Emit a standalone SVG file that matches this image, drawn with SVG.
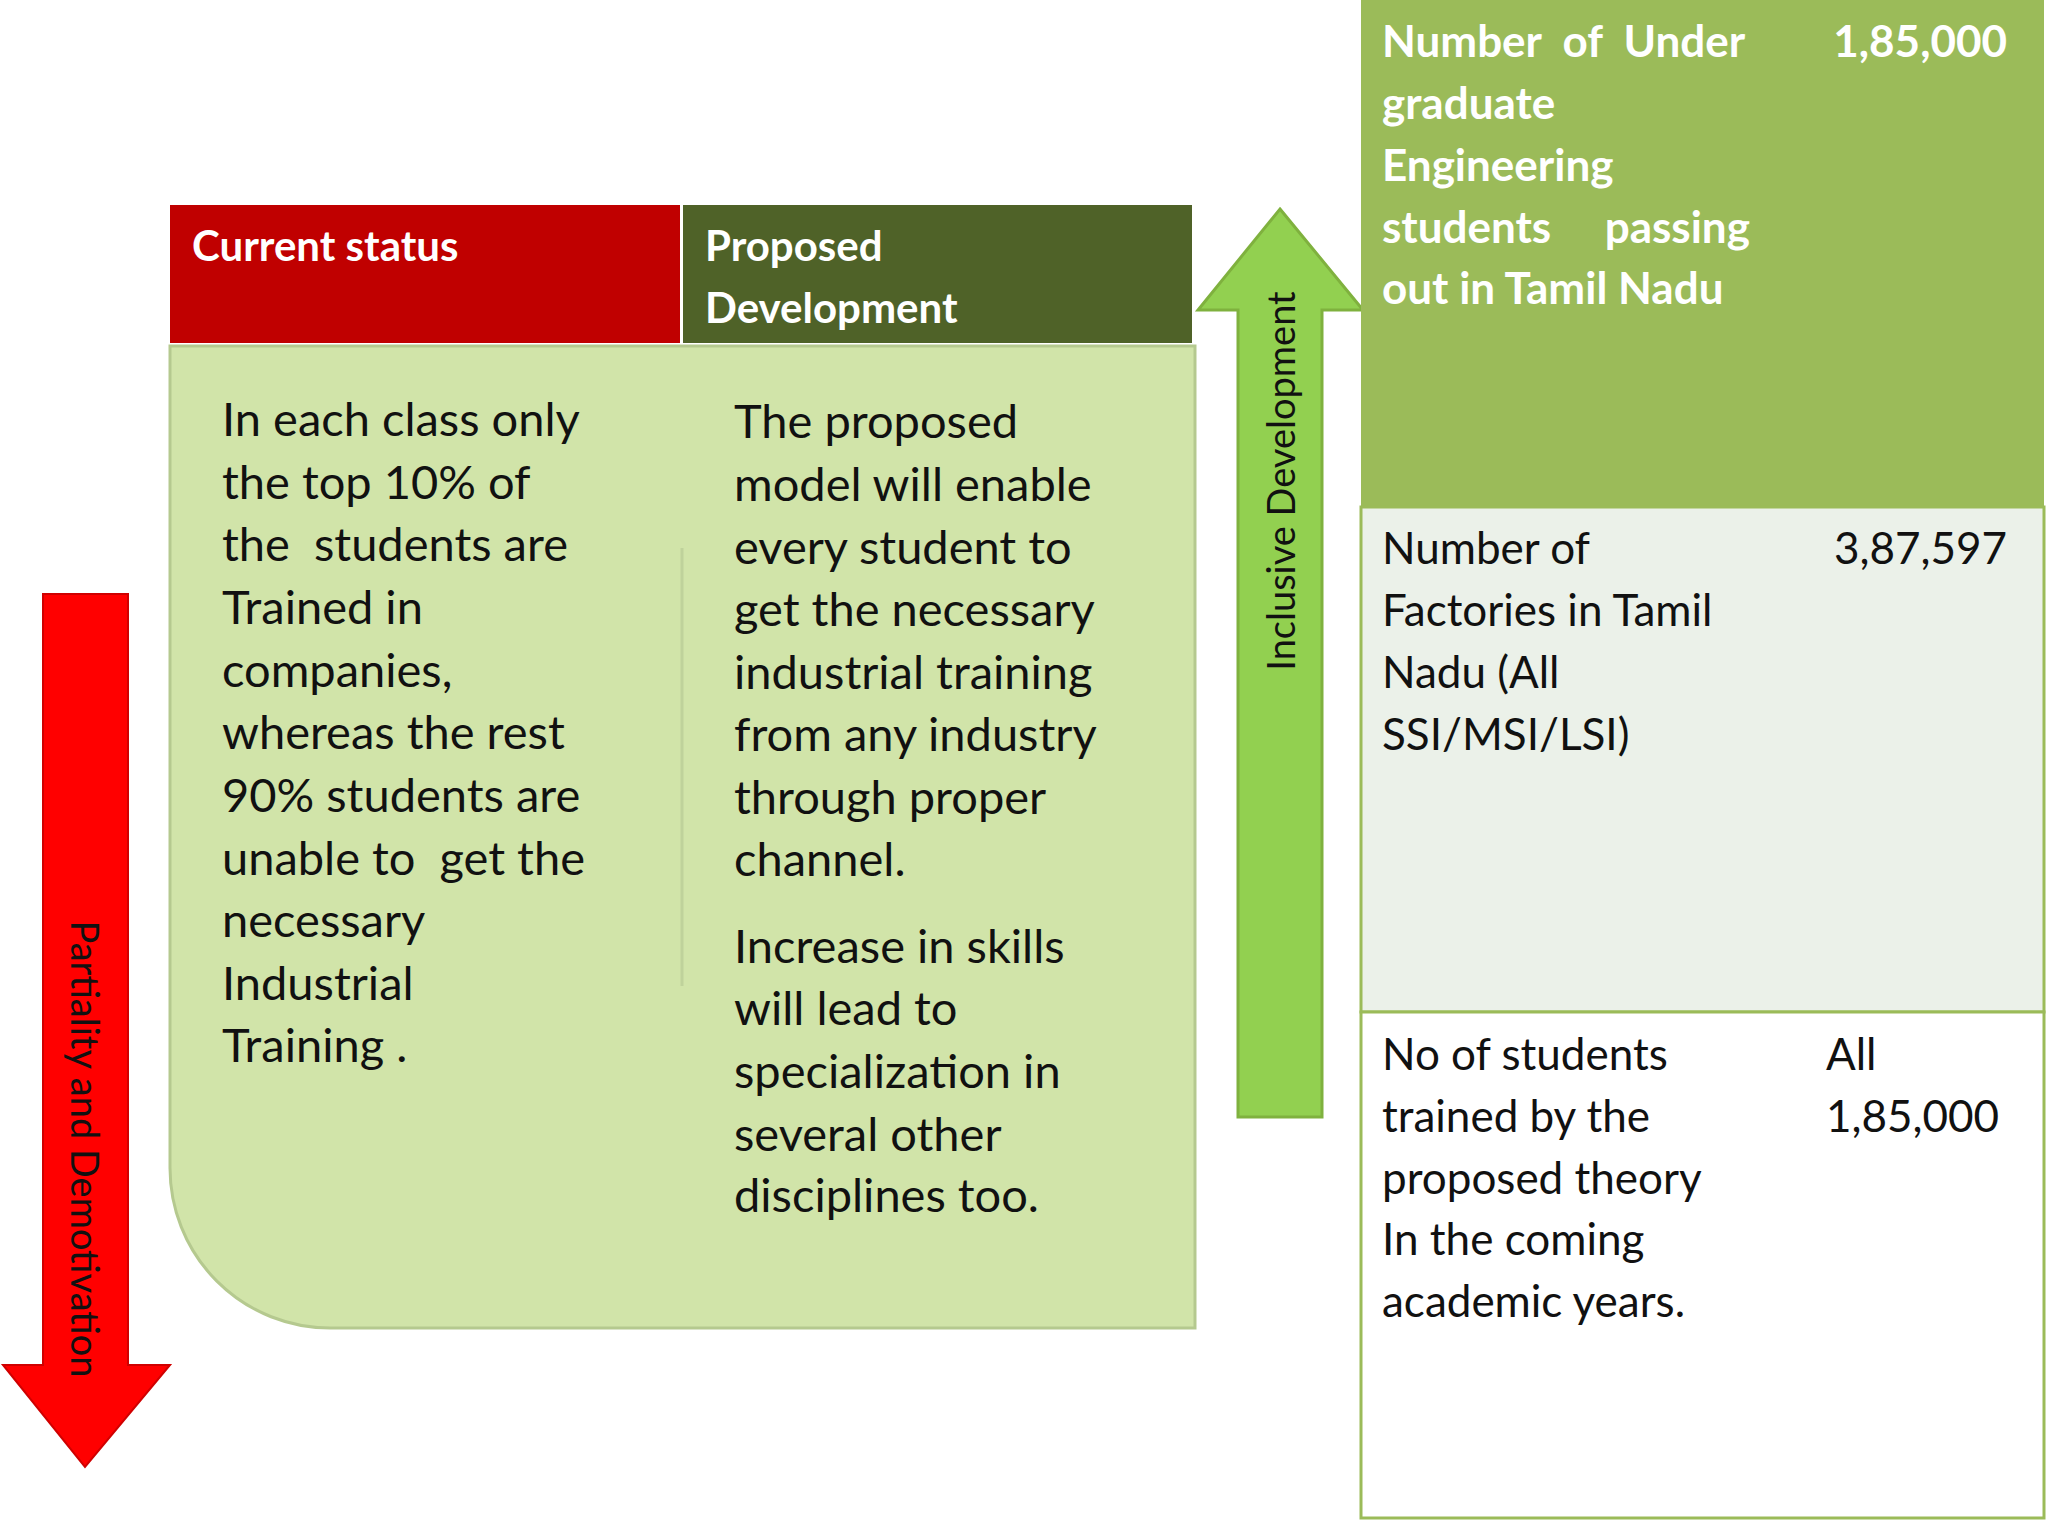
<svg xmlns="http://www.w3.org/2000/svg" width="2048" height="1536" viewBox="0 0 2048 1536">
<style>
text{font-family:Lato,"Open Sans",sans-serif}
.b{font-size:47px;fill:#111}
.h{font-size:42px;font-weight:bold;fill:#fff}
.t{font-size:44px;fill:#111}
.tw{font-size:44px;font-weight:bold;fill:#fff}
</style>
<rect width="2048" height="1536" fill="#fff"/>
<g id="main-box">
<path d="M170 346H1195V1328H330A160 160 0 0 1 170 1168Z" fill="#D1E4A9" stroke="#B5C98F" stroke-width="3"/>
<line x1="682" y1="548" x2="682" y2="986" stroke="#BFD29B" stroke-width="3"/>
</g>
<g id="header-current"><rect x="170" y="205" width="510" height="138" fill="#C00000"/><text class="h" x="192" y="261">Current status</text></g>
<g id="header-proposed"><rect x="683" y="205" width="509" height="138" fill="#4F6228"/><text class="h" x="705" y="261">Proposed</text><text class="h" x="705" y="323">Development</text></g>
<g id="current-text" class="b">
<text class="b" x="222" y="436">In each class only</text>
<text class="b" x="222" y="499">the top 10% of</text>
<text class="b" x="222" y="561" xml:space="preserve">the  students are</text>
<text class="b" x="222" y="624">Trained in</text>
<text class="b" x="222" y="687">companies,</text>
<text class="b" x="222" y="749">whereas the rest</text>
<text class="b" x="222" y="812">90% students are</text>
<text class="b" x="222" y="875" xml:space="preserve">unable to  get the</text>
<text class="b" x="222" y="937">necessary</text>
<text class="b" x="222" y="1000">Industrial</text>
<text class="b" x="222" y="1062">Training .</text>
</g>
<g id="proposed-text">
<text class="b" x="734" y="438">The proposed</text>
<text class="b" x="734" y="501">model will enable</text>
<text class="b" x="734" y="564">every student to</text>
<text class="b" x="734" y="626">get the necessary</text>
<text class="b" x="734" y="689">industrial training</text>
<text class="b" x="734" y="751">from any industry</text>
<text class="b" x="734" y="814">through proper</text>
<text class="b" x="734" y="876">channel.</text>
<text class="b" x="734" y="963">Increase in skills</text>
<text class="b" x="734" y="1025">will lead to</text>
<text class="b" x="734" y="1088">specialization in</text>
<text class="b" x="734" y="1151">several other</text>
<text class="b" x="734" y="1212">disciplines too.</text>
</g>
<g id="arrow-up">
<path d="M1280 209L1363 310H1322V1117H1238V310H1198Z" fill="#92D050" stroke="#7FB13E" stroke-width="3"/>
<text x="1295" y="481" transform="rotate(-90 1295 481)" text-anchor="middle" font-size="38" fill="#111">Inclusive Development</text>
</g>
<g id="arrow-down">
<path d="M43 594H128V1365H170L85 1467L3 1365H43Z" fill="#FF0000" stroke="#D00000" stroke-width="2"/>
<text x="71" y="1149" transform="rotate(90 71 1149)" text-anchor="middle" font-size="38" fill="#111">Partiality and Demotivation</text>
</g>
<g id="row1">
<rect x="1361" y="0" width="683" height="507" fill="#9BBB59"/>
<text class="tw" x="1382" y="57" xml:space="preserve">Number  of  Under</text>
<text class="tw" x="1382" y="119">graduate</text>
<text class="tw" x="1382" y="181">Engineering</text>
<text class="tw" x="1382" y="243" xml:space="preserve">students     passing</text>
<text class="tw" x="1382" y="304">out in Tamil Nadu</text>
<text class="tw" x="2007" y="57" text-anchor="end">1,85,000</text>
</g>
<g id="row2">
<rect x="1361" y="507" width="683" height="505" fill="#EBF1E9" stroke="#9BBB59" stroke-width="3"/>
<text class="t" x="1382" y="564">Number of</text>
<text class="t" x="1382" y="626">Factories in Tamil</text>
<text class="t" x="1382" y="688">Nadu (All</text>
<text class="t" x="1382" y="750">SSI/MSI/LSI)</text>
<text class="t" x="2007" y="564" text-anchor="end">3,87,597</text>
</g>
<g id="row3">
<rect x="1361" y="1012" width="683" height="506" fill="#fff" stroke="#9BBB59" stroke-width="3"/>
<text class="t" x="1382" y="1070">No of students</text>
<text class="t" x="1382" y="1132">trained by the</text>
<text class="t" x="1382" y="1194">proposed theory</text>
<text class="t" x="1382" y="1255">In the coming</text>
<text class="t" x="1382" y="1317">academic years.</text>
<text class="t" x="1826" y="1070">All</text>
<text class="t" x="1826" y="1132">1,85,000</text>
</g>
</svg>
